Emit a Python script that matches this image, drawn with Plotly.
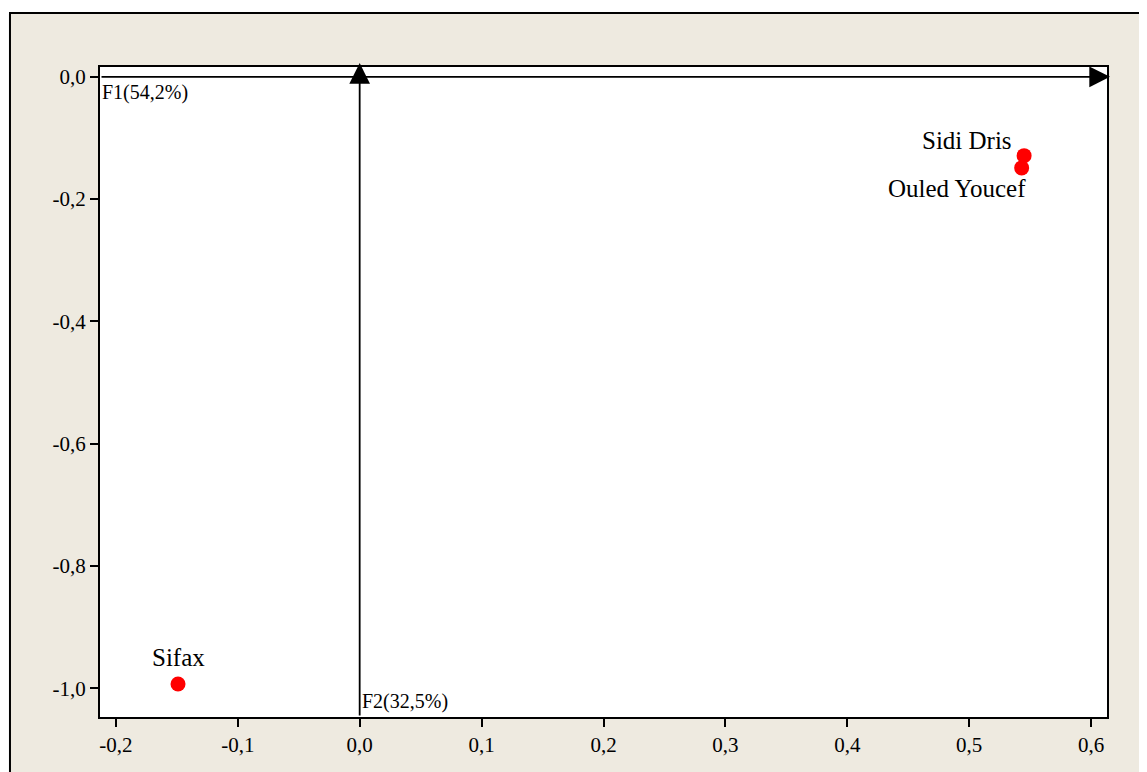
import plotly.graph_objects as go

# Data
names = ["Sidi Dris", "Ouled Youcef", "Sifax"]
f1 = [0.545, 0.543, -0.149]
f2 = [-0.129, -0.149, -0.993]

x_ticks = [-0.2, -0.1, 0.0, 0.1, 0.2, 0.3, 0.4, 0.5, 0.6]
x_ticktext = ["-0,2", "-0,1", "0,0", "0,1", "0,2", "0,3", "0,4", "0,5", "0,6"]
y_ticks = [0.0, -0.2, -0.4, -0.6, -0.8, -1.0]
y_ticktext = ["0,0", "-0,2", "-0,4", "-0,6", "-0,8", "-1,0"]

x_range = [-0.213, 0.613]
y_range = [-1.047, 0.016]
axis_f1_label = "F1(54,2%)"
axis_f2_label = "F2(32,5%)"

FONT = "Liberation Serif, Times New Roman, serif"

# label placement styles (anchor, pixel shifts) per point
label_style = [
    dict(xanchor="right", yanchor="middle", xshift=-10, yshift=15),
    dict(xanchor="right", yanchor="middle", xshift=6, yshift=-21),
    dict(xanchor="center", yanchor="middle", xshift=0, yshift=26),
]

fig = go.Figure()
fig.add_trace(go.Scatter(
    x=f1, y=f2, mode="markers",
    marker=dict(color="#FF0000", size=15),
    cliponaxis=False, showlegend=False,
))
for nm, xv, yv, st in zip(names, f1, f2, label_style):
    fig.add_annotation(x=xv, y=yv, xref="x", yref="y", text=nm, showarrow=False,
                       font=dict(family=FONT, size=25, color="black"), **st)

# Axis arrows (tips slightly beyond the plot frame)
fig.add_annotation(x=1.003, y=0, xref="paper", yref="y", ax=-1010, ay=0,
                   showarrow=True, arrowhead=2, arrowsize=2.3,
                   arrowwidth=1.8, arrowcolor="black", text="")
fig.add_annotation(x=0, y=1.006, xref="x", yref="paper", ax=0, ay=654,
                   showarrow=True, arrowhead=2, arrowsize=2.3,
                   arrowwidth=1.8, arrowcolor="black", text="")
fig.add_annotation(x=x_range[0], y=0, xref="x", yref="y", text=axis_f1_label,
                   showarrow=False, xanchor="left", yanchor="top", yshift=-2,
                   font=dict(family=FONT, size=20, color="black"))
fig.add_annotation(x=0, y=y_range[0], xref="x", yref="y", text=axis_f2_label,
                   showarrow=False, xanchor="left", yanchor="bottom", yshift=2,
                   font=dict(family=FONT, size=20, color="black"))

# outer frame: white strips and black border
fig.add_shape(type="rect", xref="paper", yref="paper", x0=-0.2, x1=-0.0894, y0=-0.3, y1=1.3,
              fillcolor="white", line=dict(width=0), layer="below")
fig.add_shape(type="rect", xref="paper", yref="paper", x0=-0.2, x1=1.3, y0=1.0831, y1=1.3,
              fillcolor="white", line=dict(width=0), layer="below")
fig.add_shape(type="rect", xref="paper", yref="paper", x0=-0.0894, x1=1.3, y0=-0.3, y1=1.0831,
              fillcolor="rgba(0,0,0,0)", line=dict(color="black", width=2), layer="below")

axis_common = dict(showgrid=False, zeroline=False, showline=True, linecolor="black",
                   linewidth=2, mirror=True, ticks="outside", ticklen=8, tickwidth=2,
                   tickcolor="black", tickfont=dict(family=FONT, size=21, color="black"))
fig.update_xaxes(range=x_range, tickvals=x_ticks, ticktext=x_ticktext, **axis_common)
fig.update_yaxes(range=y_range, tickvals=y_ticks, ticktext=y_ticktext, **axis_common)

fig.update_layout(
    width=1147, height=772,
    margin=dict(l=92, r=48, t=59, b=63),
    paper_bgcolor="#EEEAE0", plot_bgcolor="white",
    font=dict(family=FONT, color="black"),
)
fig.write_html("out.html")
